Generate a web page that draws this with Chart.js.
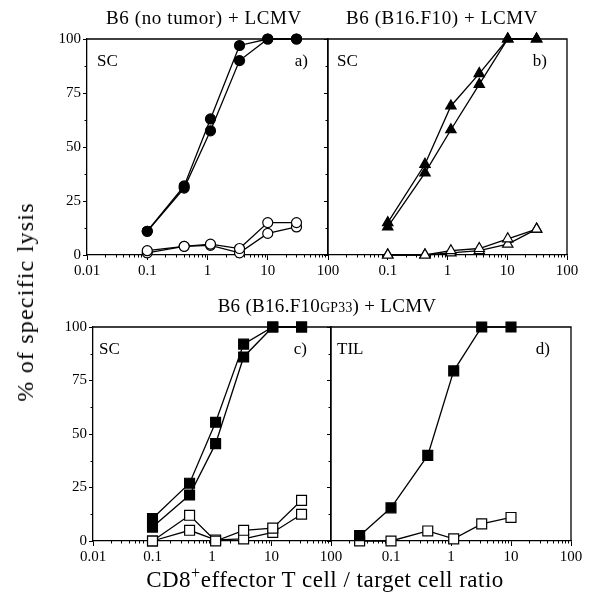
<!DOCTYPE html>
<html>
<head>
<meta charset="utf-8">
<script src="https://cdn.jsdelivr.net/npm/chart.js@4/dist/chart.umd.min.js"></script>
<style>
  html, body { margin: 0; padding: 0; background: #fff; }
  #fig { position: relative; width: 594px; height: 604px; overflow: hidden;
         font-family: 'Liberation Serif', 'DejaVu Serif', serif; color: #000; }
  #fig canvas { position: absolute; }
  .lbl { position: absolute; white-space: nowrap; line-height: 1; }
  .c  { transform: translate(-50%, -50%); }
  .l  { transform: translate(0, -50%); }
  .r  { transform: translate(-100%, -50%); }
  .sc { font-size: 0.72em; }
</style>
</head>
<body>
<div id="fig">
  <canvas id="pa"></canvas>
  <canvas id="pb"></canvas>
  <canvas id="pc"></canvas>
  <canvas id="pd"></canvas>

  <div class="lbl c" style="left:204px;top:17px;font-size:19px;letter-spacing:0.6px;">B6 (no tumor) + LCMV</div>
  <div class="lbl c" style="left:442px;top:17px;font-size:19px;letter-spacing:0.6px;">B6 (B16.F10) + LCMV</div>
  <div class="lbl c" style="left:327px;top:305px;font-size:19px;letter-spacing:0.3px;">B6 (B16.F10<span class="sc">GP33</span>) + LCMV</div>

  <div class="lbl l" style="left:97px;top:60px;font-size:17px;">SC</div>
  <div class="lbl r" style="left:308px;top:60px;font-size:17px;">a)</div>
  <div class="lbl l" style="left:337px;top:60px;font-size:17px;">SC</div>
  <div class="lbl r" style="left:547px;top:60px;font-size:17px;">b)</div>
  <div class="lbl l" style="left:99px;top:348px;font-size:17px;">SC</div>
  <div class="lbl r" style="left:307px;top:348px;font-size:17px;">c)</div>
  <div class="lbl l" style="left:337px;top:348px;font-size:17px;">TIL</div>
  <div class="lbl r" style="left:550px;top:348px;font-size:17px;">d)</div>

  <div class="lbl c" style="left:325px;top:578px;font-size:23px;letter-spacing:0.5px;">CD8<sup style="font-size:0.7em;vertical-align:0.6em;">+</sup>effector T cell / target cell ratio</div>
  <div class="lbl c" style="left:25px;top:302px;font-size:24px;letter-spacing:1.2px;transform:translate(-50%,-50%) rotate(-90deg);">% of specific lysis</div>
</div>

<script>
// Effector : target ratios (x) and % specific lysis (y) per panel
const ratiosA = [0.1, 0.41, 1.12, 3.4, 10, 30];
const aFilled1 = [11, 32, 63, 97, 100, 100];
const aFilled2 = [11, 31, 57.5, 90, 100, 100];
const aOpen1   = [2, 4, 5, 3, 15, 15];
const aOpen2   = [1, 4, 4.5, 1, 10, 13];

const ratiosB = [0.1, 0.42, 1.14, 3.4, 10.2, 31];
const bFilled1 = [15, 42, 69, 84, 100, 100];
const bFilled2 = [13, 38, 58, 79, 100, 100];
const bOpen1   = [0, 0, 2, 3, 7.5, 12];
const bOpen2   = [0, 0, 1, 2, 5, 12];

const ratiosC = [0.1, 0.42, 1.15, 3.4, 10.5, 32];
const cFilled1 = [10.5, 27, 55.5, 92, 100, 100];
const cFilled2 = [6.5, 21.5, 45.5, 86, 100, 100];
const cOpen1   = [0, 12, 0, 5, 6, 19];
const cOpen2   = [0, 5, 0.5, 1, 4, 12.5];

const ratiosD = [0.03, 0.1, 0.41, 1.11, 3.25, 10];
const dFilled = [2.5, 15.5, 40, 79.5, 100, 100];
const dOpen   = [0, 0, 4.7, 1, 8, 11];

const xDecades = [0.01, 0.1, 1, 10, 100];
const yTicks = [0, 25, 50, 75, 100];
const yMinor = [12.5, 37.5, 62.5, 87.5];

const FONT = "'Liberation Serif', 'DejaVu Serif', serif";

function series(xs, ys, style, filled, radius) {
  return {
    data: xs.map((x, i) => ({ x: x, y: ys[i] })),
    borderColor: '#000',
    borderWidth: 1.3,
    pointStyle: style,
    pointRadius: radius,
    pointBackgroundColor: filled ? '#000' : '#fff',
    pointBorderColor: '#000',
    pointBorderWidth: 1.2,
    tension: 0,
    clip: false
  };
}

// Closes the box (top and right edges) and adds the short minor ticks
const framePlugin = {
  id: 'frame',
  beforeDatasetsDraw(chart) {
    const { ctx, chartArea: a, scales: { x, y } } = chart;
    ctx.save();
    ctx.strokeStyle = '#000';
    ctx.lineWidth = 1.3;
    ctx.beginPath();
    ctx.moveTo(a.left, a.top);
    ctx.lineTo(a.right, a.top);
    ctx.lineTo(a.right, a.bottom);
    ctx.stroke();
    ctx.lineWidth = 1;
    ctx.beginPath();
    for (let d = 0; d < xDecades.length - 1; d++) {
      for (let m = 2; m <= 9; m++) {
        const px = Math.round(x.getPixelForValue(xDecades[d] * m)) + 0.5;
        ctx.moveTo(px, a.bottom);
        ctx.lineTo(px, a.bottom + 2.5);
      }
    }
    yMinor.forEach(v => {
      const py = Math.round(y.getPixelForValue(v)) + 0.5;
      ctx.moveTo(a.left, py);
      ctx.lineTo(a.left - 2.5, py);
    });
    ctx.stroke();
    ctx.restore();
  }
};

function panel(id, area, datasets, showYLabels, showFirstX) {
  const yw = showYLabels ? 50 : 12;
  const padTop = 14, padRight = 24, xh = 32;
  const cv = document.getElementById(id);
  const w = area.r - area.l + yw + padRight;
  const h = area.b - area.t + padTop + xh;
  cv.style.left = (area.l - yw) + 'px';
  cv.style.top = (area.t - padTop) + 'px';
  cv.width = w; cv.height = h;
  cv.style.width = w + 'px'; cv.style.height = h + 'px';

  new Chart(cv, {
    type: 'line',
    data: { datasets: datasets },
    options: {
      responsive: false,
      animation: false,
      devicePixelRatio: 1,
      layout: { padding: { top: padTop, right: padRight, left: 0, bottom: 0 } },
      plugins: { legend: { display: false }, tooltip: { enabled: false } },
      scales: {
        x: {
          type: 'logarithmic',
          min: 0.01, max: 100,
          afterFit(s) { s.height = xh; },
          afterBuildTicks(s) { s.ticks = xDecades.map(v => ({ value: v })); },
          ticks: {
            autoSkip: false, maxRotation: 0, padding: 2,
            color: '#000', font: { family: FONT, size: 15 },
            callback(v) {
              if (v === 0.01 && !showFirstX) return '';
              return String(v);
            }
          },
          grid: { display: true, drawOnChartArea: false, drawTicks: true,
                  tickLength: 5, color: '#000', lineWidth: 1 },
          border: { display: true, color: '#000', width: 1.3 }
        },
        y: {
          min: 0, max: 100,
          afterFit(s) { s.width = yw; },
          afterBuildTicks(s) { s.ticks = yTicks.map(v => ({ value: v })); },
          ticks: {
            display: showYLabels, padding: 2,
            color: '#000', font: { family: FONT, size: 15 }
          },
          grid: { display: true, drawOnChartArea: false, drawTicks: true,
                  tickLength: 4, color: '#000', lineWidth: 1 },
          border: { display: true, color: '#000', width: 1.3 }
        }
      }
    },
    plugins: [framePlugin]
  });
}

panel('pa', { l: 87, r: 328, t: 39, b: 255 }, [
  series(ratiosA, aFilled1, 'circle', true, 5),
  series(ratiosA, aFilled2, 'circle', true, 5),
  series(ratiosA, aOpen1, 'circle', false, 5),
  series(ratiosA, aOpen2, 'circle', false, 5)
], true, true);

panel('pb', { l: 328, r: 567, t: 39, b: 255 }, [
  series(ratiosB, bFilled1, 'triangle', true, 6),
  series(ratiosB, bFilled2, 'triangle', true, 6),
  series(ratiosB, bOpen1, 'triangle', false, 6),
  series(ratiosB, bOpen2, 'triangle', false, 6)
], false, false);

panel('pc', { l: 93, r: 331, t: 327, b: 541 }, [
  series(ratiosC, cFilled1, 'rect', true, 7),
  series(ratiosC, cFilled2, 'rect', true, 7),
  series(ratiosC, cOpen1, 'rect', false, 7),
  series(ratiosC, cOpen2, 'rect', false, 7)
], true, true);

panel('pd', { l: 331, r: 571, t: 327, b: 541 }, [
  series(ratiosD, dFilled, 'rect', true, 7),
  series(ratiosD, dOpen, 'rect', false, 7)
], false, false);
</script>
</body>
</html>
